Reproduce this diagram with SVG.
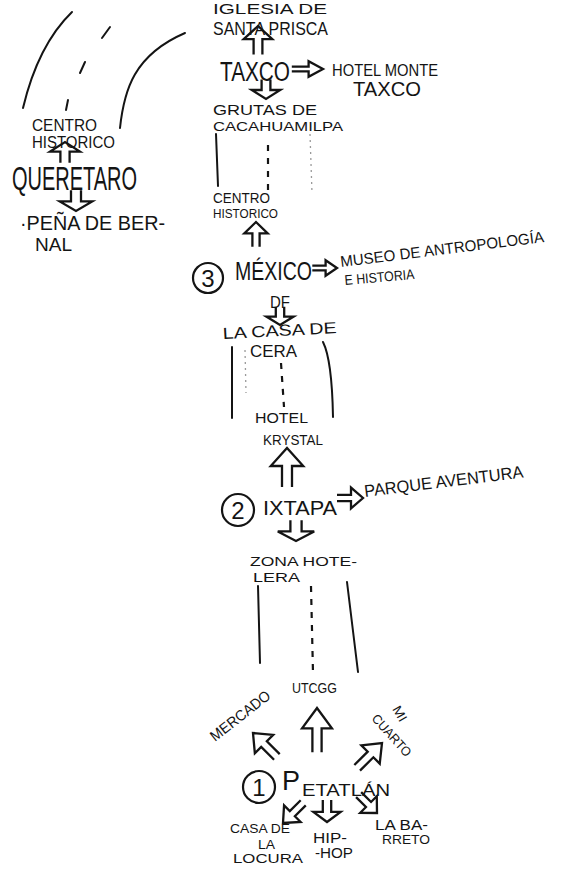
<svg xmlns="http://www.w3.org/2000/svg" xmlns:xlink="http://www.w3.org/1999/xlink" width="567" height="870" viewBox="0 0 567 870">
<style>
  text { font-family: "Liberation Sans", "DejaVu Sans", sans-serif; fill: #141414; }
  .ln { stroke: #141414; stroke-width: 2; fill: none; stroke-linecap: round; }
  .dash { stroke: #141414; stroke-width: 2.2; fill: none; stroke-dasharray: 6 7; }
  .faint { stroke: #9a9a9a; stroke-width: 1.3; fill: none; stroke-dasharray: 2 4; }
  .ring { stroke: #141414; stroke-width: 2.2; fill: none; }
  .arr { fill: #fff; stroke: #141414; stroke-width: 2.3; stroke-linejoin: miter; vector-effect: non-scaling-stroke; }
</style>
<defs>
  <path id="au" class="arr" d="M-4,26 V12 H-13 L0,0 L13,12 H4 V26"/>
</defs>
<rect width="567" height="870" fill="#fff"/>

<g id="connectors">
  <!-- left sketch arcs -->
  <path class="ln" d="M23,108 Q38,45 72,12"/>
  <path class="ln" d="M120,128 C124,90 134,55 185,33"/>
  <path class="ln" d="M102,38 L110,27 M80,73 L85,62 M66,110 L68,100"/>
  <!-- Taxco area -->
  <use xlink:href="#au" transform="translate(258,26) scale(1.1,1.1)"/>
  <use xlink:href="#au" transform="translate(323,69) rotate(90) scale(0.6,1.2)"/>
  <use xlink:href="#au" transform="translate(266,99) rotate(180) scale(1.1,0.75)"/>
  <path class="ln" d="M216,134 L218,186"/>
  <path class="dash" d="M268,145 L268,190"/>
  <path class="faint" d="M310,134 L312,193"/>
  <!-- Mexico area -->
  <use xlink:href="#au" transform="translate(256,222) scale(0.9,0.95)"/>
  <use xlink:href="#au" transform="translate(337,268) rotate(90) scale(0.6,0.95)"/>
  <use xlink:href="#au" transform="translate(280,325) rotate(180) scale(1.05,0.7)"/>
  <path class="ln" d="M232,347 L232,418"/>
  <path class="ln" d="M323,342 Q332,360 333,417"/>
  <path class="dash" d="M281,363 L284,407" stroke-dasharray="5 9"/>
  <path class="faint" d="M245,350 L246,393"/>
  <use xlink:href="#au" transform="translate(287,448) scale(1.25,1.5)"/>
  <!-- Ixtapa area -->
  <use xlink:href="#au" transform="translate(363,498) rotate(90) scale(0.8,1)"/>
  <use xlink:href="#au" transform="translate(296,541) rotate(180) scale(1.4,0.8)"/>
  <path class="ln" d="M258,586 L260,663"/>
  <path class="ln" d="M347,582 L358,672"/>
  <path class="dash" d="M311,586 L313,673" stroke-dasharray="8 8"/>
  <!-- Petatlan area -->
  <use xlink:href="#au" transform="translate(253,733) rotate(-45) scale(1,1.3)"/>
  <use xlink:href="#au" transform="translate(317,708) scale(1.15,1.7)"/>
  <use xlink:href="#au" transform="translate(382,743) rotate(45) scale(1,1.35)"/>
  <use xlink:href="#au" transform="translate(283,823) rotate(225) scale(0.9,1.1)"/>
  <use xlink:href="#au" transform="translate(327,822) rotate(180) scale(1.05,0.85)"/>
  <use xlink:href="#au" transform="translate(377,813) rotate(135) scale(0.9,1.0)"/>
  <!-- Queretaro -->
  <use xlink:href="#au" transform="translate(65,142) scale(1.15,0.8)"/>
  <use xlink:href="#au" transform="translate(76,211) rotate(180) scale(1.25,0.8)"/>
</g>

<g id="santa-prisca">
  <text x="213" y="14" font-size="15" textLength="114" lengthAdjust="spacingAndGlyphs">IGLESIA DE</text>
  <text x="213" y="35" font-size="18" textLength="115" lengthAdjust="spacingAndGlyphs">SANTA PRISCA</text>
</g>
<g id="taxco">
  <text x="220" y="81" font-size="27" textLength="70" lengthAdjust="spacingAndGlyphs">TAXCO</text>
</g>
<g id="hotel-monte-taxco">
  <text x="332" y="76" font-size="17" textLength="106" lengthAdjust="spacingAndGlyphs">HOTEL MONTE</text>
  <text x="353" y="96" font-size="20" textLength="68" lengthAdjust="spacingAndGlyphs">TAXCO</text>
</g>
<g id="grutas">
  <text x="213" y="115" font-size="14" textLength="104" lengthAdjust="spacingAndGlyphs">GRUTAS DE</text>
  <text x="213" y="131" font-size="13" textLength="130" lengthAdjust="spacingAndGlyphs">CACAHUAMILPA</text>
</g>
<g id="centro-historico-mx">
  <text x="213" y="203" font-size="14" textLength="57" lengthAdjust="spacingAndGlyphs">CENTRO</text>
  <text x="213" y="218" font-size="12" textLength="65" lengthAdjust="spacingAndGlyphs">HISTORICO</text>
</g>
<g id="mexico">
  <circle class="ring" cx="208" cy="278" r="15"/>
  <text x="208" y="287" font-size="24" text-anchor="middle">3</text>
  <text x="235" y="280" font-size="26" textLength="77" lengthAdjust="spacingAndGlyphs">MÉXICO</text>
  <text x="270" y="308" font-size="17" textLength="20" lengthAdjust="spacingAndGlyphs">DF</text>
</g>
<g id="museo">
  <text x="341" y="267" font-size="15.5" textLength="205" lengthAdjust="spacingAndGlyphs" transform="rotate(-7 341 267)">MUSEO DE ANTROPOLOGÍA</text>
  <text x="345" y="285" font-size="14" textLength="70" lengthAdjust="spacingAndGlyphs" transform="rotate(-5 345 285)">E HISTORIA</text>
</g>
<g id="casa-de-cera">
  <text x="223" y="339" font-size="16" textLength="114" lengthAdjust="spacingAndGlyphs" transform="rotate(-3 223 339)">LA CASA DE</text>
  <text x="250" y="357" font-size="16" textLength="47" lengthAdjust="spacingAndGlyphs">CERA</text>
</g>
<g id="hotel-krystal">
  <text x="255" y="423" font-size="15" textLength="53" lengthAdjust="spacingAndGlyphs">HOTEL</text>
  <text x="263" y="445" font-size="14" textLength="60" lengthAdjust="spacingAndGlyphs">KRYSTAL</text>
</g>
<g id="ixtapa">
  <circle class="ring" cx="238" cy="510" r="16"/>
  <text x="238" y="519" font-size="24" text-anchor="middle">2</text>
  <text x="263" y="515" font-size="20" textLength="74" lengthAdjust="spacingAndGlyphs">IXTAPA</text>
</g>
<g id="parque-aventura">
  <text x="365" y="497" font-size="17" textLength="160" lengthAdjust="spacingAndGlyphs" transform="rotate(-7 365 497)">PARQUE AVENTURA</text>
</g>
<g id="zona-hotelera">
  <text x="250" y="566" font-size="13" textLength="107" lengthAdjust="spacingAndGlyphs">ZONA HOTE-</text>
  <text x="253" y="582" font-size="13" textLength="47" lengthAdjust="spacingAndGlyphs">LERA</text>
</g>
<g id="utcgg">
  <text x="292" y="693" font-size="14" textLength="45" lengthAdjust="spacingAndGlyphs">UTCGG</text>
</g>
<g id="mercado">
  <text x="215" y="742" font-size="15" textLength="72" lengthAdjust="spacingAndGlyphs" transform="rotate(-38 215 742)">MERCADO</text>
</g>
<g id="mi-cuarto">
  <text x="392" y="709" font-size="13" textLength="16" lengthAdjust="spacingAndGlyphs" transform="rotate(60 392 709)">MI</text>
  <text x="371" y="719" font-size="13" textLength="52" lengthAdjust="spacingAndGlyphs" transform="rotate(48 371 719)">CUARTO</text>
</g>
<g id="petatlan">
  <circle class="ring" cx="259" cy="787" r="16"/>
  <text x="259" y="796" font-size="24" text-anchor="middle">1</text>
  <text x="282" y="790" font-size="27">P</text>
  <text x="302" y="796" font-size="17" textLength="88" lengthAdjust="spacingAndGlyphs">ETATLÁN</text>
</g>
<g id="casa-de-la-locura">
  <text x="230" y="833" font-size="13" textLength="60" lengthAdjust="spacingAndGlyphs">CASA DE</text>
  <text x="258" y="849" font-size="12" textLength="17" lengthAdjust="spacingAndGlyphs">LA</text>
  <text x="233" y="863" font-size="13" textLength="70" lengthAdjust="spacingAndGlyphs">LOCURA</text>
</g>
<g id="hip-hop">
  <text x="313" y="843" font-size="14" textLength="34" lengthAdjust="spacingAndGlyphs">HIP-</text>
  <text x="315" y="858" font-size="14" textLength="38" lengthAdjust="spacingAndGlyphs">-HOP</text>
</g>
<g id="la-barreto">
  <text x="375" y="830" font-size="14" textLength="53" lengthAdjust="spacingAndGlyphs">LA BA-</text>
  <text x="382" y="844" font-size="13" textLength="48" lengthAdjust="spacingAndGlyphs">RRETO</text>
</g>
<g id="centro-historico-qro">
  <text x="32" y="131" font-size="16" textLength="65" lengthAdjust="spacingAndGlyphs">CENTRO</text>
  <text x="32" y="148" font-size="16" textLength="83" lengthAdjust="spacingAndGlyphs">HISTORICO</text>
</g>
<g id="queretaro">
  <text x="12" y="190" font-size="33" textLength="125" lengthAdjust="spacingAndGlyphs">QUERETARO</text>
</g>
<g id="pena-de-bernal">
  <text x="20" y="230" font-size="21" textLength="145" lengthAdjust="spacingAndGlyphs">·PEÑA DE BER-</text>
  <text x="35" y="251" font-size="18" textLength="37" lengthAdjust="spacingAndGlyphs">NAL</text>
</g>
</svg>
